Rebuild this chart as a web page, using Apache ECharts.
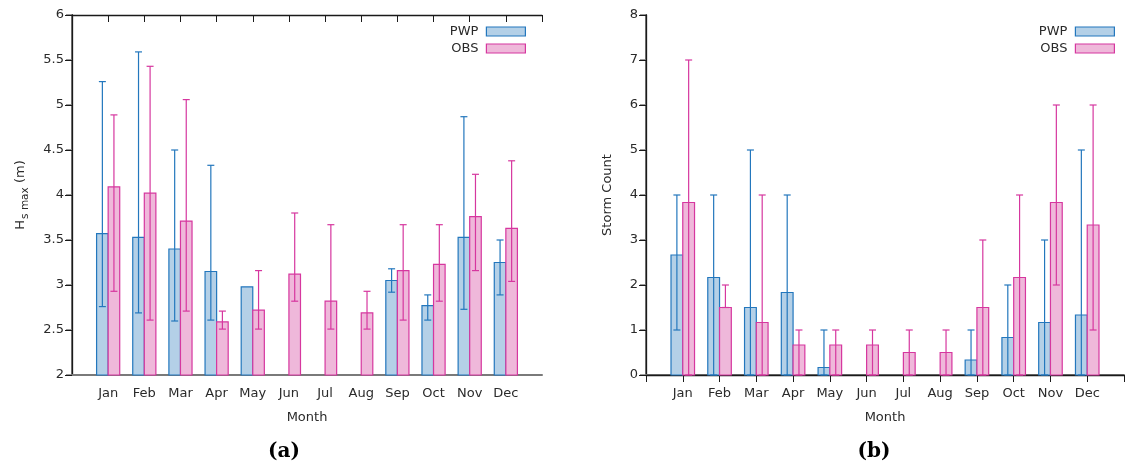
<!DOCTYPE html>
<html>
<head>
<meta charset="utf-8">
<script src="https://cdn.jsdelivr.net/npm/echarts@6/dist/echarts.min.js"></script>
<style>html,body{margin:0;padding:0;background:#fff}#c{width:1127px;height:464px}</style>
</head>
<body>
<div id="c"></div>
<script>
const months = ['Jan','Feb','Mar','Apr','May','Jun','Jul','Aug','Sep','Oct','Nov','Dec'];

// (a) Hs max (m)
const hsPwp     = [3.57, 3.53, 3.40, 3.15, 2.98, null, null, null, 3.05, 2.77, 3.53, 3.25];
const hsPwpLow  = [2.76, 2.69, 2.60, 2.61, 2.98, null, null, null, 2.92, 2.61, 2.73, 2.89];
const hsPwpHigh = [5.26, 5.59, 4.50, 4.33, 2.98, null, null, null, 3.18, 2.89, 4.87, 3.50];
const hsObs     = [4.09, 4.02, 3.71, 2.59, 2.72, 3.12, 2.82, 2.69, 3.16, 3.23, 3.76, 3.63];
const hsObsLow  = [2.93, 2.61, 2.71, 2.51, 2.51, 2.82, 2.51, 2.51, 2.61, 2.82, 3.16, 3.04];
const hsObsHigh = [4.89, 5.43, 5.06, 2.71, 3.16, 3.80, 3.67, 2.93, 3.67, 3.67, 4.23, 4.38];

// (b) Storm count
const scPwp     = [2.667, 2.167, 1.5, 1.833, 0.167, null, null, null, 0.333, 0.833, 1.167, 1.333];
const scPwpLow  = [1, 0, 0, 0, 0, null, null, null, 0, 0, 0, 0];
const scPwpHigh = [4, 4, 5, 4, 1, null, null, null, 1, 2, 3, 5];
const scObs     = [3.833, 1.5, 1.167, 0.667, 0.667, 0.667, 0.5, 0.5, 1.5, 2.167, 3.833, 3.333];
const scObsLow  = [0, 1.5, 0, 0, 0, 0, 0, 0, 0, 0, 2, 1];
const scObsHigh = [7, 2, 4, 1, 1, 1, 1, 1, 3, 4, 6, 6];

const yTicksA = {min: 2, max: 6, interval: 0.5};
const yTicksB = {min: 0, max: 8, interval: 1};

const PWP_FILL = '#b4d0e7', PWP_LINE = '#2377bd';
const OBS_FILL = '#efb8da', OBS_LINE = '#d6379f';
const FONT = 'DejaVu Sans';
const FS = 13;
const TXT = '#2a2a2a';

function build(vals, lo, hi) {
  const out = [];
  for (let i = 0; i < months.length; i++) {
    if (vals[i] == null) continue;
    out.push([i + 1, vals[i], lo[i], hi[i]]);
  }
  return out;
}

function makeRender(side, fill, stroke, base, w) {
  return function (params, api) {
    const x = api.value(0), v = api.value(1), lo = api.value(2), hi = api.value(3);
    const x0 = side < 0 ? x - w : x;
    const x1 = x0 + w;
    const pTop = api.coord([x0, v]);
    const pBot = api.coord([x1, base]);
    const children = [{
      type: 'rect',
      shape: {x: pTop[0], y: pTop[1], width: pBot[0] - pTop[0], height: pBot[1] - pTop[1]},
      style: {fill: fill, stroke: stroke, lineWidth: 1.2}
    }];
    if (!(lo === v && hi === v)) {
      const xc = x0 + w / 2;
      const ph = api.coord([xc, hi]);
      const pl = api.coord([xc, lo]);
      const cap = 3.5;
      const ls = {stroke: stroke, lineWidth: 1.2};
      children.push({type: 'line', shape: {x1: ph[0], y1: ph[1], x2: pl[0], y2: pl[1]}, style: ls});
      children.push({type: 'line', shape: {x1: ph[0] - cap, y1: ph[1], x2: ph[0] + cap, y2: ph[1]}, style: ls});
      children.push({type: 'line', shape: {x1: pl[0] - cap, y1: pl[1], x2: pl[0] + cap, y2: pl[1]}, style: ls});
    }
    return {type: 'group', children: children};
  };
}

function xAxes(gi) {
  return [{
    gridIndex: gi, type: 'value', position: 'bottom', min: 0, max: 13, interval: 1,
    name: 'Month', nameLocation: 'middle', nameGap: 36,
    nameTextStyle: {fontFamily: FONT, fontSize: FS, color: TXT},
    axisLine: {lineStyle: {color: '#7a7a7a', width: 2}},
    axisTick: {show: false},
    splitLine: {show: false},
    axisLabel: {
      fontFamily: FONT, fontSize: FS, color: TXT, margin: 12,
      formatter: v => (v >= 1 && v <= 12) ? months[v - 1] : ''
    }
  }, {
    gridIndex: gi, type: 'value', position: 'top', min: 0, max: 13, interval: 1,
    axisLine: {lineStyle: {color: '#1a1a1a', width: 1.3}},
    axisTick: {inside: true, length: 7, lineStyle: {color: '#1a1a1a', width: 1}},
    axisLabel: {show: false},
    splitLine: {show: false}
  }];
}

function yAxes(gi, t, nameObj) {
  return [Object.assign({
    gridIndex: gi, type: 'value', position: 'left', min: t.min, max: t.max, interval: t.interval,
    nameLocation: 'middle',
    axisLine: {show: true, lineStyle: {color: '#7a7a7a', width: 2}},
    axisTick: {show: true, inside: false, length: 6, lineStyle: {color: '#7a7a7a', width: 1.5}},
    axisLabel: {fontFamily: FONT, fontSize: FS, color: TXT, margin: 8},
    splitLine: {show: false}
  }, nameObj), {
    gridIndex: gi, type: 'value', position: 'right', min: t.min, max: t.max, interval: t.interval,
    axisLine: {show: true, lineStyle: {color: '#1a1a1a', width: 1.3}},
    axisTick: {show: true, inside: true, length: 7, lineStyle: {color: '#1a1a1a', width: 1}},
    axisLabel: {show: false},
    splitLine: {show: false}
  }];
}

function legendFor(right) {
  return {
    orient: 'vertical', align: 'right', right: right, top: 24, padding: 0,
    itemWidth: 39, itemHeight: 9, itemGap: 2,
    textStyle: {fontFamily: FONT, fontSize: FS, color: TXT, lineHeight: 15, padding: [0, 3, 0, 0]},
    selectedMode: false,
    data: [
      {name: 'PWP', icon: 'rect', itemStyle: {color: PWP_FILL, borderColor: PWP_LINE, borderWidth: 1.2}},
      {name: 'OBS', icon: 'rect', itemStyle: {color: OBS_FILL, borderColor: OBS_LINE, borderWidth: 1.2}}
    ]
  };
}

const W = 0.32;
const option = {
  animation: false,
  backgroundColor: '#fff',
  grid: [
    {left: 72, top: 15, width: 470, height: 360},
    {left: 646, top: 15, width: 485, height: 360}
  ],
  xAxis: xAxes(0).concat(xAxes(1)),
  yAxis: yAxes(0, yTicksA, {
    name: '{h|H}{s|s max}{h| (m)}', nameGap: 40,
    nameTextStyle: {
      fontFamily: FONT, color: TXT,
      rich: {
        h: {fontFamily: FONT, fontSize: FS, color: TXT, verticalAlign: 'top', lineHeight: 18},
        s: {fontFamily: FONT, fontSize: 10.5, color: TXT, verticalAlign: 'top', lineHeight: 18, padding: [6, 0, 0, 1]}
      }
    }
  }).concat(yAxes(1, yTicksB, {
    name: 'Storm Count', nameGap: 32,
    nameTextStyle: {fontFamily: FONT, fontSize: FS, color: TXT}
  })),
  legend: [legendFor(601), legendFor(12)],
  series: [
    {name: 'PWP', type: 'custom', xAxisIndex: 0, yAxisIndex: 0, itemStyle: {color: PWP_FILL},
      renderItem: makeRender(-1, PWP_FILL, PWP_LINE, yTicksA.min, W), data: build(hsPwp, hsPwpLow, hsPwpHigh)},
    {name: 'OBS', type: 'custom', xAxisIndex: 0, yAxisIndex: 0, itemStyle: {color: OBS_FILL},
      renderItem: makeRender(1, OBS_FILL, OBS_LINE, yTicksA.min, W), data: build(hsObs, hsObsLow, hsObsHigh)},
    {name: 'PWP', type: 'custom', xAxisIndex: 2, yAxisIndex: 2, itemStyle: {color: PWP_FILL},
      renderItem: makeRender(-1, PWP_FILL, PWP_LINE, yTicksB.min, W), data: build(scPwp, scPwpLow, scPwpHigh)},
    {name: 'OBS', type: 'custom', xAxisIndex: 2, yAxisIndex: 2, itemStyle: {color: OBS_FILL},
      renderItem: makeRender(1, OBS_FILL, OBS_LINE, yTicksB.min, W), data: build(scObs, scObsLow, scObsHigh)}
  ],
  graphic: [
    {type: 'text', x: 284, y: 452, style: {text: '(a)', font: 'bold 20px "DejaVu Serif"', fill: '#000', align: 'center', verticalAlign: 'middle'}},
    {type: 'text', x: 874, y: 452, style: {text: '(b)', font: 'bold 20px "DejaVu Serif"', fill: '#000', align: 'center', verticalAlign: 'middle'}}
  ]
};

const chart = echarts.init(document.getElementById('c'), null, {renderer: 'canvas'});
chart.setOption(option);
</script>
</body>
</html>
